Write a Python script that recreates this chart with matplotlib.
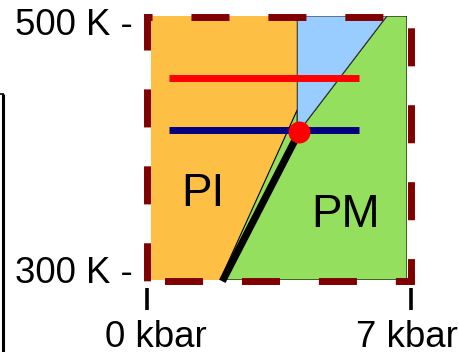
import matplotlib
matplotlib.use("Agg")
import matplotlib.pyplot as plt
from matplotlib.patches import Polygon, Rectangle, Circle
from matplotlib.lines import Line2D

plt.rcParams["font.family"] = ["Liberation Sans", "DejaVu Sans"]
plt.rcParams["lines.scale_dashes"] = False

# Axis range (pressure in kbar, temperature in K)
p_range = [0, 7]
t_range = [300, 500]
tick_labels_t = ["500 K -", "300 K -"]
tick_labels_p = ["0 kbar", "7 kbar"]

# Phase boundaries
pi_pm_boundary_p = [4.0, 1.89]      # PI / PM line, top to bottom
pi_pm_boundary_t = [429, 300]
blue_apex_p = [4.0, 6.45, 4.0]      # upper wedge
blue_apex_t = [500, 500, 411]

# Highlighted transition line (from triple point down to 300 K)
transition_p = [4.05, 1.95]
transition_t = [412, 299]

# Horizontal isotherms
red_line_p = [0.5, 5.68]
red_line_t = 453
navy_line_p = [0.5, 5.68]
navy_line_t = 414

# Triple point marker
point_p, point_t = 4.05, 412

region_labels = ["PI", "PM"]
region_label_p = [1.41, 5.33]
region_label_t = [356, 340]

W, H = 459, 352
fig = plt.figure(figsize=(W / 100, H / 100), dpi=100)
ax = fig.add_axes([151 / W, (H - 280) / H, 256 / W, 264 / H])
ax.set_xlim(*p_range)
ax.set_ylim(*t_range)
ax.axis("off")

orange = "#FEC044"
green = "#95DF5F"
blue = "#99CCFF"

ax.add_patch(Polygon([(p_range[0], t_range[0]), (p_range[0], t_range[1]),
                      (pi_pm_boundary_p[0], t_range[1]),
                      (pi_pm_boundary_p[0], pi_pm_boundary_t[0]),
                      (pi_pm_boundary_p[1], pi_pm_boundary_t[1])],
                     closed=True, facecolor=orange, edgecolor="none", zorder=1))
ax.add_patch(Polygon([(pi_pm_boundary_p[1], pi_pm_boundary_t[1]),
                      (pi_pm_boundary_p[0], pi_pm_boundary_t[0]),
                      (blue_apex_p[2], blue_apex_t[2]),
                      (blue_apex_p[1], blue_apex_t[1]),
                      (p_range[1], t_range[1]), (p_range[1], t_range[0])],
                     closed=True, facecolor=green, edgecolor="black",
                     linewidth=0.8, zorder=2))
ax.add_patch(Polygon(list(zip(blue_apex_p, blue_apex_t)), closed=True,
                     facecolor=blue, edgecolor="#333333", linewidth=0.8, zorder=3))

ax.plot(red_line_p, [red_line_t] * 2, color="#FF0000", linewidth=5,
        solid_capstyle="butt", zorder=4)
ax.plot(navy_line_p, [navy_line_t] * 2, color="#000080", linewidth=5,
        solid_capstyle="butt", zorder=4)
ax.plot(transition_p, transition_t, color="black", linewidth=5.2,
        solid_capstyle="butt", zorder=5, clip_on=False)
ax.scatter([point_p], [point_t], s=250, color="#FF0000", zorder=6,
           linewidths=0)

# Dashed frame around the diagram
frame = Rectangle((-0.096, 299.6), 7.206, 200.0, fill=False,
                  edgecolor="#800000", linewidth=5.0,
                  linestyle=(42.8, (27.4, 28.0)), joinstyle="miter",
                  capstyle="butt", zorder=7, clip_on=False)
ax.add_patch(frame)

fs = 26.4
ax.text(-0.49, 485.6, tick_labels_t[0], ha="right", va="baseline",
        fontsize=fs, clip_on=False)
ax.text(-0.49, 297.7, tick_labels_t[1], ha="right", va="baseline",
        fontsize=fs, clip_on=False)
ax.text(0.137, 249.2, tick_labels_p[0], ha="center", va="baseline",
        fontsize=fs, clip_on=False)
ax.text(6.99, 249.2, tick_labels_p[1], ha="center", va="baseline",
        fontsize=fs, clip_on=False)
for xp in (-0.12, 7.11):
    ax.plot([xp, xp], [293.9, 277.3], color="black", linewidth=2.6,
            solid_capstyle="butt", clip_on=False)

for lab, lp, lt in zip(region_labels, region_label_p, region_label_t):
    ax.text(lp, lt, lab, ha="center", va="baseline", fontsize=33, zorder=8)

# Edge of the neighbouring panel on the left
fig.add_artist(Line2D([2.5 / W, 2.5 / W], [0, 1 - 93.5 / H],
                      color="black", linewidth=2.2, solid_capstyle="butt"))
fig.add_artist(Line2D([0, 3.5 / W], [1 - 93.5 / H, 1 - 93.5 / H],
                      color="black", linewidth=1.2, solid_capstyle="butt"))

fig.savefig("out.png", dpi=100)
